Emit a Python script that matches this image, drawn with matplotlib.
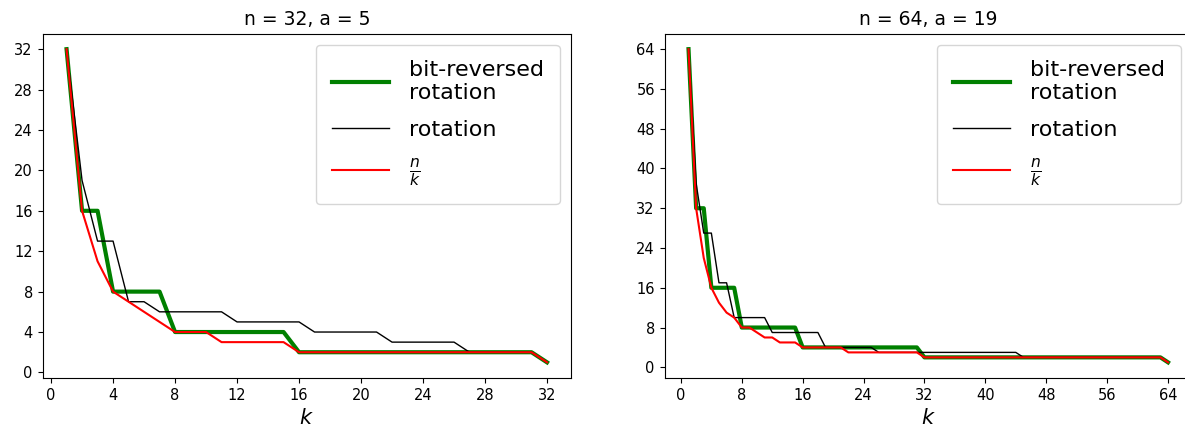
import matplotlib
matplotlib.use("Agg")
import matplotlib.pyplot as plt

# ---- data ----
k32 = list(range(1, 33))
bitrev32 = [32, 16, 16, 8, 8, 8, 8, 4, 4, 4, 4, 4, 4, 4, 4,
            2, 2, 2, 2, 2, 2, 2, 2, 2, 2, 2, 2, 2, 2, 2, 2, 1]
rot32 = [32, 19, 13, 13, 7, 7, 6, 6, 6, 6, 6, 5, 5, 5, 5, 5,
         4, 4, 4, 4, 4, 3, 3, 3, 3, 3, 2, 2, 2, 2, 2, 1]
nk32 = [32, 16, 11, 8, 7, 6, 5, 4, 4, 4, 3, 3, 3, 3, 3,
        2, 2, 2, 2, 2, 2, 2, 2, 2, 2, 2, 2, 2, 2, 2, 2, 1]

k64 = list(range(1, 65))
bitrev64 = ([64, 32, 32] + [16] * 4 + [8] * 8 + [4] * 16 + [2] * 32 + [1])
rot64 = ([64, 37, 27, 27, 17, 17] + [10] * 5 + [7] * 7 + [4] * 7
         + [3] * 19 + [2] * 19 + [1])
nk64 = ([64, 32, 22, 16, 13, 11, 10, 8, 8, 7, 6, 6, 5, 5, 5]
        + [4] * 6 + [3] * 10 + [2] * 32 + [1])

panels = [
    ("n = 32, a = 5", k32, bitrev32, rot32, nk32, 4),
    ("n = 64, a = 19", k64, bitrev64, rot64, nk64, 8),
]

fig = plt.figure(figsize=(11.85, 4.38), dpi=100)
positions = [[0.0359, 0.137, 0.446, 0.7865], [0.5608, 0.137, 0.4451, 0.7865]]

for pos, (title, k, br, rot, nk, step) in zip(positions, panels):
    ax = fig.add_axes(pos)
    ax.plot(k, br, color="green", lw=3, label="bit-reversed\nrotation")
    ax.plot(k, rot, color="black", lw=1, label="rotation")
    ax.plot(k, nk, color="red", lw=1.5, label=r"$\frac{n}{k}$")
    n = k[-1]
    ax.set_xticks(range(0, n + 1, step))
    ax.set_yticks(range(0, n + 1, step))
    ax.tick_params(labelsize=10.5)
    ax.set_xlabel("$k$", fontsize=15)
    ax.set_title(title, fontsize=13.5)
    ax.legend(loc="upper right", fontsize=16, handlelength=2.6,
              handletextpad=0.9, borderpad=0.7, labelspacing=0.75)

fig.savefig("out.png", dpi=100)
